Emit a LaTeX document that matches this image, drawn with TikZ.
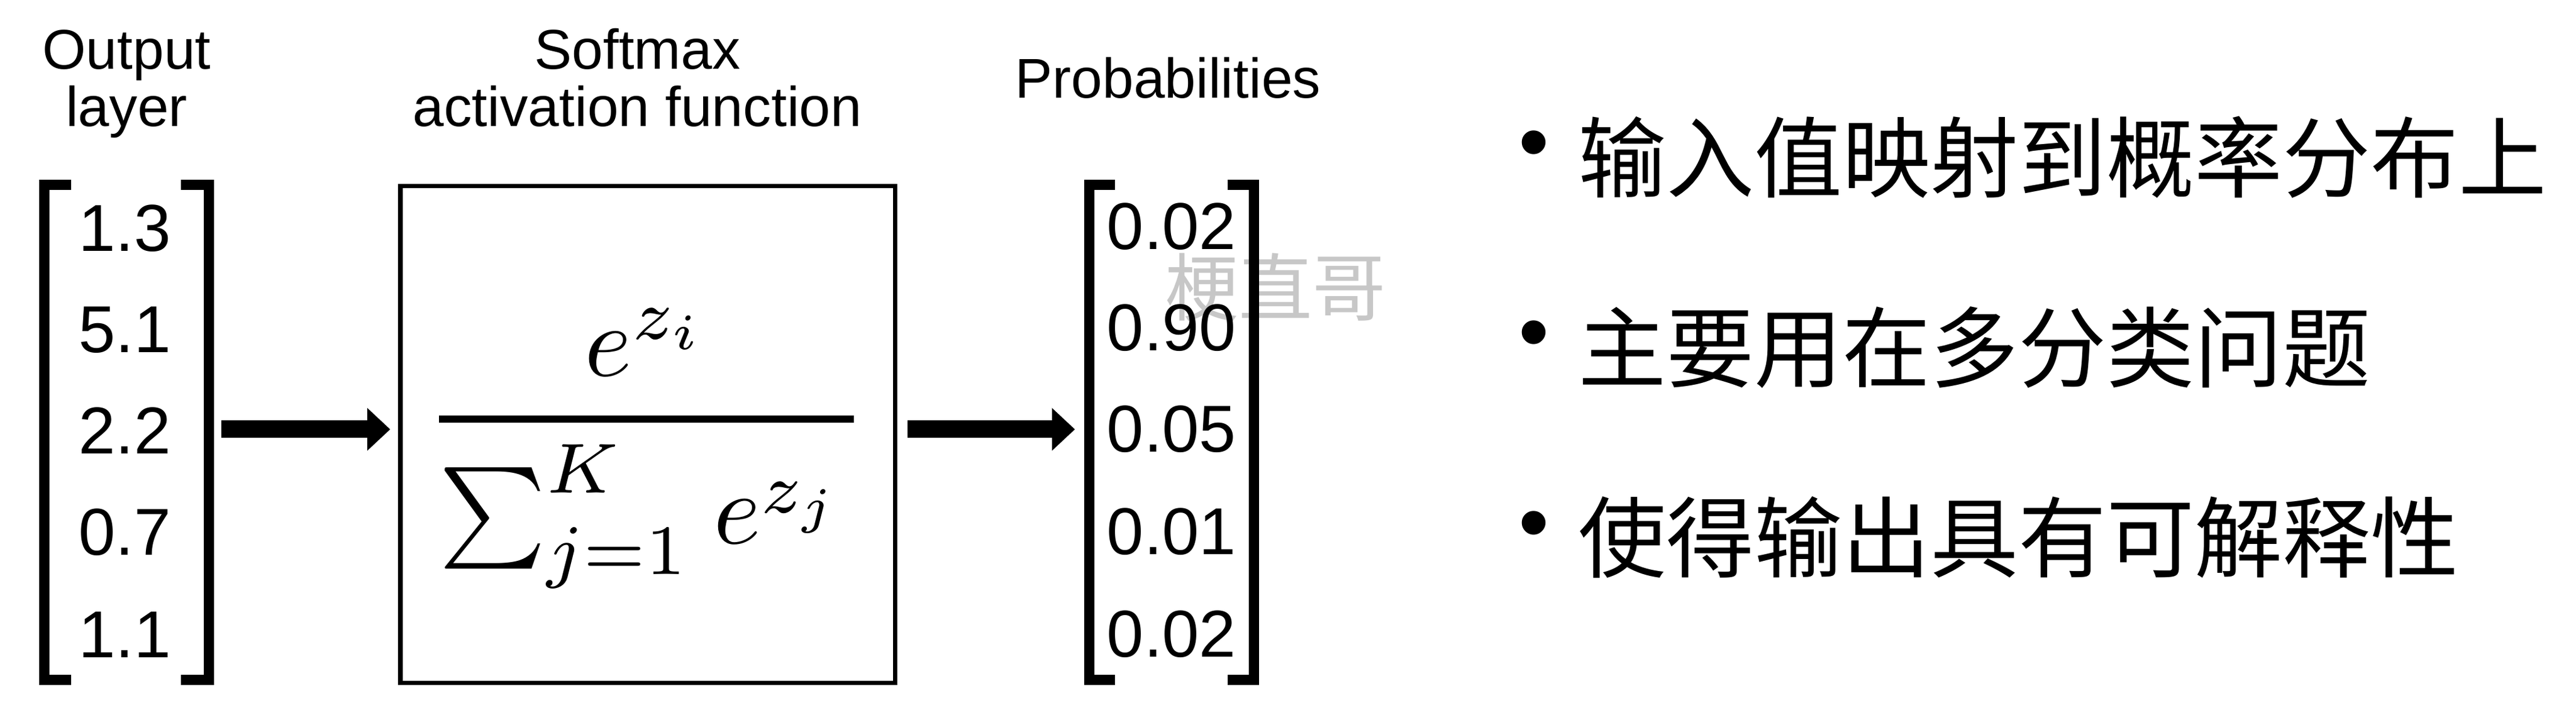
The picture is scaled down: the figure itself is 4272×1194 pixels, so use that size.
\documentclass[tikz,border=0pt]{standalone}
\usepackage{graphicx}
\usepackage[no-math]{fontspec}
\setmainfont{Liberation Sans}
\newfontfamily\cjk{Noto Sans CJK SC}
\usetikzlibrary{arrows.meta}
\begin{document}
\begin{tikzpicture}[x=0.2pt,y=-0.2pt,
  title/.style={font=\fontsize{18.6}{19}\selectfont, inner sep=0pt, anchor=base},
  num/.style={font=\fontsize{22}{26}\selectfont, inner sep=0pt, anchor=base},
  holder/.style={inner sep=0pt, outer sep=0pt, minimum width=58pt, minimum height=167.6pt},
  bracket/.style={line width=3.4pt, line join=miter, line cap=butt},
  fnbox/.style={draw, line width=1.5pt, inner sep=0pt, outer sep=0pt, minimum width=164.1pt, minimum height=164.7pt},
  bigarrow/.style={line width=5.8pt, -{Triangle[length=7.6pt,width=14.2pt,line width=0pt]}},
  item/.style={font=\cjk\fontsize{29.2}{30}\selectfont, inner sep=0pt, anchor=base west},
  dot/.style={font=\fontsize{29}{30}\selectfont, inner sep=0pt},
  wm/.style={font=\cjk\fontsize{24.4}{26}\selectfont, text=black!22, inner sep=0pt}
]
\fill[white] (0,0) rectangle (4272,1194);
\useasboundingbox (0,0) rectangle (4272,1194);

% watermark (under the drawing)
\node[wm] (wm) at (2115,476) {梗直哥};

% titles
\node[title] (t1a) at (210,115) {Output};
\node[title] (t1b) at (210,210) {layer};
\node[title] (t2a) at (1057,115) {Softmax};
\node[title] (t2b) at (1057,210) {activation function};
\node[title] (t3) at (1937,163) {Probabilities};

% output layer vector
\node[holder] (outv) at (210,717) {};
\draw[bracket] ([shift={(53,8.5)}]outv.north west) -- ([shift={(8.5,8.5)}]outv.north west)
  -- ([shift={(8.5,-8.5)}]outv.south west) -- ([shift={(53,-8.5)}]outv.south west);
\draw[bracket] ([shift={(-55,8.5)}]outv.north east) -- ([shift={(-8.5,8.5)}]outv.north east)
  -- ([shift={(-8.5,-8.5)}]outv.south east) -- ([shift={(-55,-8.5)}]outv.south east);
\node[num] (o1) at (207,417) {1.3};
\node[num] (o2) at (207,585) {5.1};
\node[num] (o3) at (207,753) {2.2};
\node[num] (o4) at (207,921) {0.7};
\node[num] (o5) at (207,1090) {1.1};

% softmax box
\node[fnbox] (fbox) at (1074,720.5) {};
\node[inner sep=0pt, anchor=base] (frac) at (1072,737)
  {\scalebox{3.36}{$\displaystyle{e^{z_i}\above 0.714pt \sum_{j=1}^{K}\mkern1mu e^{z_j}\mkern2mu}$}};

% probabilities vector
\node[holder] (pbox) at (1942.5,717) {};
\draw[bracket] ([shift={(51,8.5)}]pbox.north west) -- ([shift={(8.5,8.5)}]pbox.north west)
  -- ([shift={(8.5,-8.5)}]pbox.south west) -- ([shift={(51,-8.5)}]pbox.south west);
\draw[bracket] ([shift={(-52,8.5)}]pbox.north east) -- ([shift={(-8.5,8.5)}]pbox.north east)
  -- ([shift={(-8.5,-8.5)}]pbox.south east) -- ([shift={(-52,-8.5)}]pbox.south east);
\node[num] (p1) at (1943,414) {0.02};
\node[num] (p2) at (1943,582) {0.90};
\node[num] (p3) at (1943,750) {0.05};
\node[num] (p4) at (1943,920) {0.01};
\node[num] (p5) at (1943,1089) {0.02};

% arrows
\draw[bigarrow] ([shift={(12,-5)}]outv.east) -- ([shift={(-16.75,-8.5)}]fbox.west);
\draw[bigarrow] ([shift={(20.75,-8.5)}]fbox.east) -- ([shift={(-15,-5)}]pbox.west);

% bullet list
\node[dot] (b1) at (2544,251) {•};
\node[dot] (b2) at (2544,566) {•};
\node[dot] (b3) at (2544,882) {•};
\node[item] (i1) at (2616,317) {输入值映射到概率分布上};
\node[item] (i2) at (2616,632) {主要用在多分类问题};
\node[item] (i3) at (2616,947) {使得输出具有可解释性};
\end{tikzpicture}
\end{document}
